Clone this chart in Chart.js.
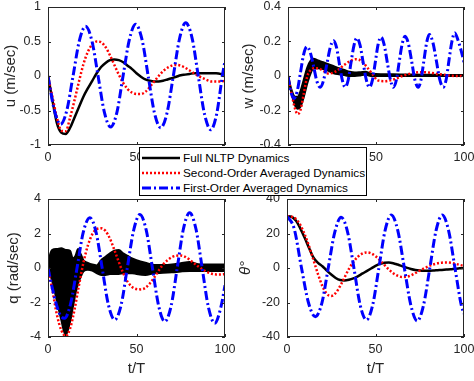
<!DOCTYPE html>
<html>
<head>
<meta charset="utf-8">
<script src="https://cdn.jsdelivr.net/npm/chart.js@4/dist/chart.umd.min.js"></script>
<style>
  html, body { margin:0; padding:0; background:#fff; }
  #wrap { position:relative; width:474px; height:381px; overflow:hidden; background:#fff; }
  canvas { position:absolute; }
  #legend { position:absolute; left:139px; top:147px; width:228px; height:49px; box-sizing:border-box;
            border:1px solid #000; background:#fff; font-family:"Liberation Sans", Arial, sans-serif;
            font-size:11.8px; color:#000; z-index:5; }
  .row { position:absolute; left:0; height:14px; line-height:14px; white-space:nowrap; }
  .row svg { position:absolute; left:1px; top:4px; }
  .row span { position:absolute; left:43px; top:0; }
</style>
</head>
<body>
<div id="wrap">
  <canvas id="pU" width="237" height="190" style="left:0;top:0"></canvas>
  <canvas id="pW" width="237" height="190" style="left:237px;top:0"></canvas>
  <canvas id="pQ" width="237" height="191" style="left:0;top:190px"></canvas>
  <canvas id="pT" width="237" height="191" style="left:237px;top:190px"></canvas>
  <div id="legend"></div>
</div>
<script>
// ---------------- data ----------------
const seriesNames = ["Full NLTP Dynamics", "Second-Order Averaged Dynamics", "First-Order Averaged Dynamics"];
const xTicks = [0, 50, 100];
const uTicks = [-1, -0.5, 0, 0.5, 1];
const wTicks = [-0.4, -0.2, 0, 0.2, 0.4];
const qTicks = [-4, -2, 0, 2, 4];
const thetaTicks = [-40, -20, 0, 20, 40];

const tGrid = [0,2.5,5,7.5,10,12.5,15,17.5,20,22.5,25,27.5,30,32.5,35,37.5,40,42.5,45,47.5,50,
               52.5,55,57.5,60,62.5,65,67.5,70,72.5,75,77.5,80,82.5,85,87.5,90,92.5,95,97.5,100];

// u panel
const uFull = [0,-0.35,-0.68,-0.82,-0.84,-0.75,-0.6,-0.45,-0.3,-0.18,-0.07,0.04,0.13,0.19,0.23,0.24,0.23,0.2,0.15,0.1,0.04,
               -0.01,-0.05,-0.07,-0.08,-0.08,-0.07,-0.05,-0.03,-0.01,0.01,0.02,0.03,0.04,0.04,0.04,0.04,0.04,0.04,0.03,0.03];
const uSecond = [0,-0.3,-0.6,-0.79,-0.8,-0.6,-0.35,-0.08,0.17,0.35,0.46,0.5,0.49,0.42,0.3,0.16,0.02,-0.1,-0.19,-0.24,-0.26,
                 -0.26,-0.23,-0.16,-0.08,0,0.07,0.12,0.15,0.16,0.15,0.12,0.08,0.04,0,-0.03,-0.06,-0.08,-0.08,-0.08,-0.07];
const uFirstT = [0,3.54,7.07,10.6,14.15,17.7,21.2,24.8,28.3,31.8,35.4,38.9,42.4,46,49.5,53.1,56.6,60.1,63.7,67.2,
                 70.8,74.3,77.8,81.4,84.9,88.4,92,95.3,98.5,100];
const uFirst = [0,-0.49,-0.70,-0.50,0,0.51,0.72,0.51,0,-0.52,-0.74,-0.53,0,0.53,0.75,0.53,0,-0.53,-0.75,-0.54,
                0,0.54,0.77,0.55,0,-0.55,-0.78,-0.55,0,0.22];

// w panel
const wFullT = [0,2,4,5.5,7,9,11,13,14.5,17,20,23,26,29,32,35,38,41,44,47,50,60,70,80,90,100];
const wFullUpper = [0,-0.08,-0.12,-0.12,-0.09,-0.02,0.05,0.09,0.10,0.09,0.08,0.068,0.057,0.045,0.035,0.025,0.02,0.022,0.025,0.015,
                    0.012,0.01,0.008,0.007,0.006,0.006];
const wFullLower = [0,-0.1,-0.17,-0.19,-0.18,-0.12,-0.04,0.02,0.045,0.045,0.04,0.03,0.015,0.01,0.005,0,0,0.003,0.008,0,
                    0,0,0,0,0,0];
const wSecondT = [0,2,4,5.5,7,9,11,13,15,17,20,23,26,29,32,35,38.5,42,45,48,51,55,60,65,70,75,80,85,90,95,100];
const wSecond = [0,-0.1,-0.19,-0.22,-0.2,-0.1,0,0.035,0.045,0.045,0.03,0.015,0.02,0.04,0.065,0.085,0.097,0.085,0.05,0.01,
                 -0.025,-0.03,-0.02,0,0.015,0.022,0.02,0.012,0.005,0,0];
const wFirstT = [0,1.6,3.4,5.2,7.1,8.9,10.8,12.7,14.6,16.4,18.3,20.2,22.1,24,25.9,27.6,29.2,30.9,32.5,34.2,
                 35.8,37.5,39.1,40.9,42.7,44.5,46.3,48,49.6,51.2,52.9,54.6,56.4,58.2,59.9,61.6,63.2,64.9,66.5,68.4,
                 70.3,72.1,74,75.6,77.2,78.8,80.3,82.3,84.3,86.2,88.2,89.9,91.5,93.2,94.8,96.5,98.3,100];
const wFirst = [0,-0.09,-0.13,-0.09,0.02,0.126,0.17,0.135,0.053,-0.03,-0.065,-0.025,0.07,0.165,0.205,0.165,0.07,-0.025,-0.065,-0.023,
                0.078,0.178,0.22,0.18,0.078,-0.023,-0.065,-0.022,0.08,0.183,0.225,0.183,0.08,-0.022,-0.065,-0.022,0.083,0.187,0.23,0.187,
                0.083,-0.022,-0.065,-0.02,0.088,0.195,0.24,0.195,0.088,-0.02,-0.065,-0.019,0.093,0.204,0.25,0.21,0.15,0.08];

// q panel
const qFullT = [0,1,2.5,5,7.5,10,12.5,14,15.5,17,18.5,20,22.5,25,27.5,30,32.5,35,37.5,40,42.5,45,47.5,50,
                55,60,65,70,75,80,85,90,95,100];
const qFullUpper = [0,0.7,1.05,1.1,1.15,1.05,1.0,0.55,0.7,1.1,0.8,0.45,0.3,0.2,0.15,0.45,0.65,0.85,1.0,1.05,
                    0.85,0.7,0.55,0.45,0.3,0.18,0.17,0.2,0.28,0.35,0.22,0.2,0.2,0.2];
const qFullLower = [0,-0.3,-0.8,-1.9,-3.0,-3.9,-3.1,-2.3,-1.5,-0.9,-0.5,-0.2,-0.1,-0.15,-0.3,-0.4,-0.4,-0.35,-0.35,-0.35,
                    -0.3,-0.3,-0.3,-0.35,-0.4,-0.3,-0.28,-0.25,-0.2,-0.17,-0.17,-0.17,-0.17,-0.17];
const qSecond = [0,-1.3,-2.7,-3.6,-3.95,-3.5,-2.4,-1.0,0.3,1.3,1.95,2.25,2.3,2.15,1.7,1.05,0.35,-0.3,-0.8,-1.1,
                 -1.22,-1.24,-1.15,-0.9,-0.55,-0.15,0.2,0.45,0.63,0.71,0.72,0.65,0.48,0.28,0.08,-0.1,-0.24,-0.33,-0.37,-0.37,-0.35];
const qFirstT = [0,2.5,5,7,9.3,12.8,16.4,19.9,23.6,27.1,30.6,34.1,37.7,41.3,44.8,48.4,51.9,55.5,59,62.5,
                 66,69.5,73,76.5,80,83.6,87.1,90.6,94.2,97.7,100];
const qFirst = [0,-1.2,-2.2,-2.75,-2.92,-2.06,0,2.06,2.92,2.1,0,-2.12,-3.0,-2.15,0,2.19,3.1,2.19,0,-2.19,
                -3.1,-2.23,0,2.26,3.2,2.26,0,-2.26,-3.2,-2.26,-1.0];

// theta panel
const thetaFull = [30,29.7,27.5,23,17.5,11.5,6,3,1,-1.5,-3.8,-5.8,-7,-7.2,-6.8,-6,-4.8,-3.3,-1.8,-0.3,
                   1.2,2.4,3.1,3.2,2.8,2,1.1,0.2,-0.6,-1.2,-1.5,-1.6,-1.6,-1.5,-1.3,-1.1,-0.9,-0.7,-0.4,-0.2,0];
const thetaSecond = [30,29.8,28.5,25,19.5,12.5,4.5,-3.5,-10.5,-15,-16.2,-14.5,-10.5,-5.5,-0.5,3.5,6.5,8.3,9,8.5,
                     6.8,4.5,1.8,-0.8,-3,-4.5,-5.2,-5.1,-4.3,-3,-1.5,-0.2,1,2,2.7,3.1,3.2,3,2.5,1.8,1.2];
const thetaFirstT = [0,4,8.2,12.1,16,19.7,23.3,27,30.6,34.2,37.8,41.3,44.9,48.4,51.9,55.4,58.9,62.6,66.3,70,
                     73.6,77.1,80.7,84.2,87.7,91.3,94.9,98.5,100];
const thetaFirst = [30,23,0,-20,-28.2,-20.3,0,20.8,29.4,21,0,-21.3,-30.1,-21.5,0,21.7,30.7,21.7,0,-21.7,
                    -30.7,-21.7,0,21.7,30.7,21.7,0,-21.7,-26.5];

// ---------------- styling ----------------
const BLACK = '#000000', RED = '#ff0000', BLUE = '#0000ff';
const FONT = '"Liberation Sans", Arial, sans-serif';
const AXC = '#262626';

function pts(t, v) { return t.map((x, i) => ({ x: x, y: v[i] })); }

function blueDs(t, v) {
  return { data: pts(t, v), borderColor: BLUE, borderWidth: 3, borderDash: [9, 3, 2, 3], fill: false };
}
function redDs(t, v) {
  return { data: pts(t, v), borderColor: RED, borderWidth: 2.5, borderDash: [2, 2], fill: false };
}
function blackDs(t, v) {
  return { data: pts(t, v), borderColor: BLACK, borderWidth: 2.5, fill: false };
}
function bandDs(t, upper, lower) {
  return [
    { data: pts(t, upper), borderColor: BLACK, borderWidth: 2, fill: '+1', backgroundColor: BLACK },
    { data: pts(t, lower), borderColor: BLACK, borderWidth: 2, fill: false }
  ];
}

const boxPlugin = {
  id: 'matlabBox',
  afterDatasetsDraw(chart) {
    const { ctx, chartArea: a, scales: { x, y } } = chart;
    ctx.save();
    ctx.strokeStyle = AXC;
    ctx.lineWidth = 1;
    ctx.strokeRect(a.left + 0.5, a.top + 0.5, a.right - a.left - 1, a.bottom - a.top - 1);
    ctx.beginPath();
    x.ticks.forEach(t => {
      const px = Math.round(x.getPixelForValue(t.value)) + 0.5;
      ctx.moveTo(px, a.bottom); ctx.lineTo(px, a.bottom - 3);
      ctx.moveTo(px, a.top); ctx.lineTo(px, a.top + 3);
    });
    y.ticks.forEach(t => {
      const py = Math.round(y.getPixelForValue(t.value)) + 0.5;
      ctx.moveTo(a.left, py); ctx.lineTo(a.left + 3, py);
      ctx.moveTo(a.right, py); ctx.lineTo(a.right - 3, py);
    });
    ctx.stroke();
    ctx.restore();
  }
};

function makePanel(id, p) {
  const canvas = document.getElementById(id);
  const H = canvas.height;
  new Chart(canvas, {
    type: 'line',
    data: { datasets: p.datasets },
    plugins: [boxPlugin],
    options: {
      responsive: false, animation: false, devicePixelRatio: 1,
      layout: { padding: { top: p.top, right: p.right, left: 0, bottom: 0 } },
      plugins: { legend: { display: false }, tooltip: { enabled: false } },
      elements: { point: { radius: 0 }, line: { cubicInterpolationMode: 'monotone' } },
      scales: {
        x: {
          type: 'linear', min: 0, max: 100,
          afterBuildTicks: s => { s.ticks = xTicks.map(v => ({ value: v })); },
          afterFit: s => { s.height = H - p.bottom; s.paddingLeft = 0; s.paddingRight = 0; s.paddingTop = 0; s.paddingBottom = 0; },
          grid: { display: false, drawTicks: false },
          border: { display: false },
          ticks: { padding: 5, color: AXC, maxRotation: 0, autoSkip: false, font: { family: FONT, size: 12.5 },
                   callback: v => String(v) },
          title: { display: !!p.xTitle, text: p.xTitle || '', color: AXC, padding: { top: 0, bottom: 3 },
                   font: { family: FONT, size: 15 } }
        },
        y: {
          type: 'linear', min: p.yTicks[0], max: p.yTicks[p.yTicks.length - 1],
          afterBuildTicks: s => { s.ticks = p.yTicks.map(v => ({ value: v })); },
          afterFit: s => { s.width = p.left; s.paddingLeft = 0; s.paddingRight = 0; s.paddingTop = 0; s.paddingBottom = 0; },
          grid: { display: false, drawTicks: false },
          border: { display: false },
          ticks: { padding: 7, color: AXC, autoSkip: false, font: { family: FONT, size: 12.5 },
                   callback: v => String(v) },
          title: { display: true, text: p.yTitle, color: AXC, padding: { top: p.yTitlePad, bottom: 0 },
                   font: { family: FONT, size: 15, style: p.yTitleStyle || 'normal' } }
        }
      }
    }
  });
}

makePanel('pU', {
  left: 48, right: 12, top: 7, bottom: 145, yTicks: uTicks, yTitle: 'u (m/sec)', yTitlePad: 2,
  datasets: [blueDs(uFirstT, uFirst), redDs(tGrid, uSecond), blackDs(tGrid, uFull)]
});
makePanel('pW', {
  left: 51, right: 10, top: 7, bottom: 145, yTicks: wTicks, yTitle: 'w (m/sec)', yTitlePad: 3,
  datasets: [blueDs(wFirstT, wFirst), redDs(wSecondT, wSecond), ...bandDs(wFullT, wFullUpper, wFullLower)]
});
makePanel('pQ', {
  left: 48, right: 12, top: 9, bottom: 147, yTicks: qTicks, yTitle: 'q (rad/sec)', yTitlePad: 5, xTitle: 't/T',
  datasets: [blueDs(qFirstT, qFirst), redDs(tGrid, qSecond), ...bandDs(qFullT, qFullUpper, qFullLower)]
});
makePanel('pT', {
  left: 50, right: 10, top: 9, bottom: 147, yTicks: thetaTicks, yTitle: 'θ°', yTitlePad: 0, yTitleStyle: 'italic', xTitle: 't/T',
  datasets: [blueDs(thetaFirstT, thetaFirst), redDs(tGrid, thetaSecond), blackDs(tGrid, thetaFull)]
});

// ---------------- legend ----------------
const legendStyles = [
  { color: BLACK, width: 2.5, dash: '' },
  { color: RED, width: 2.5, dash: '2 2' },
  { color: BLUE, width: 3, dash: '9 3 2 3' }
];
const legend = document.getElementById('legend');
const rowCenters = [10, 25, 40];
seriesNames.forEach((name, i) => {
  const st = legendStyles[i];
  const row = document.createElement('div');
  row.className = 'row';
  row.style.top = (rowCenters[i] - 7) + 'px';
  row.style.width = '226px';
  row.innerHTML = '<svg width="40" height="6"><line x1="1" y1="3" x2="39" y2="3" stroke="' + st.color +
    '" stroke-width="' + st.width + '"' + (st.dash ? ' stroke-dasharray="' + st.dash + '"' : '') + '/></svg>';
  const span = document.createElement('span');
  span.textContent = name;
  row.appendChild(span);
  legend.appendChild(row);
});
</script>
</body>
</html>
